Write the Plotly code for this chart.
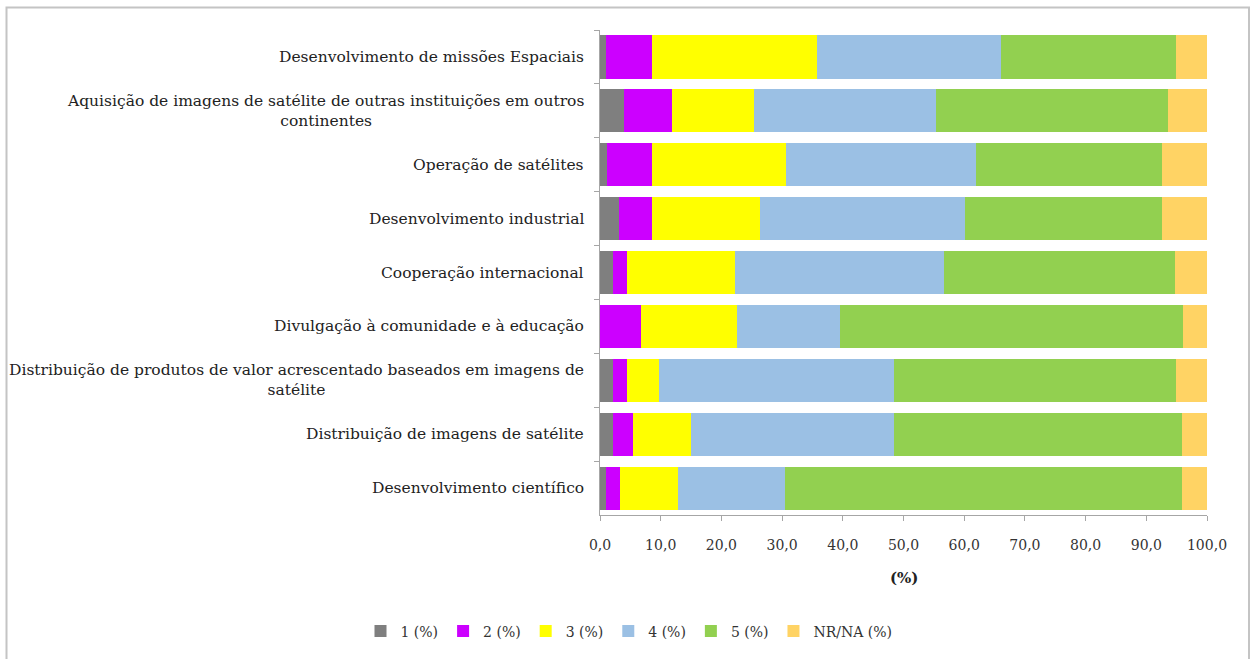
import plotly.graph_objects as go

# Categories, top to bottom
categories = [
    "Desenvolvimento de missões Espaciais",
    "Aquisição de imagens de satélite de outras instituições em outros<br>continentes",
    "Operação de satélites",
    "Desenvolvimento industrial",
    "Cooperação internacional",
    "Divulgação à comunidade e à educação",
    "Distribuição de produtos de valor acrescentado baseados em imagens de<br>satélite",
    "Distribuição de imagens de satélite",
    "Desenvolvimento científico",
]

# Share of answers per rating (%)
r1 = [1.0, 3.9, 1.1, 3.2, 2.2, 0.0, 2.2, 2.2, 1.0]
r2 = [7.5, 8.0, 7.4, 5.3, 2.3, 6.7, 2.3, 3.3, 2.3]
r3 = [27.3, 13.4, 22.1, 17.8, 17.8, 15.9, 5.3, 9.5, 9.5]
r4 = [30.3, 30.1, 31.4, 33.8, 34.4, 16.9, 38.7, 33.5, 17.7]
r5 = [28.8, 38.1, 30.6, 32.5, 38.1, 56.6, 46.4, 47.3, 65.3]
nrna = [5.1, 6.5, 7.4, 7.4, 5.2, 3.9, 5.1, 4.2, 4.2]

series_names = ["1 (%)", "2 (%)", "3 (%)", "4 (%)", "5 (%)", "NR/NA (%)"]
series_values = [r1, r2, r3, r4, r5, nrna]
series_colors = ["#7f7f7f", "#cc00ff", "#ffff00", "#9bc0e4", "#92d050", "#ffd364"]

x_ticks = [0, 10, 20, 30, 40, 50, 60, 70, 80, 90, 100]
x_tick_labels = ["0,0", "10,0", "20,0", "30,0", "40,0", "50,0",
                 "60,0", "70,0", "80,0", "90,0", "100,0"]

FONT = "DejaVu Serif"

fig = go.Figure()
for name, vals, col in zip(series_names, series_values, series_colors):
    fig.add_trace(go.Bar(
        y=categories, x=vals, name=name, orientation="h",
        marker=dict(color=col, line=dict(width=0)),
    ))

# Category labels drawn as centred multi-line text boxes
annotations = []
for cat in categories:
    annotations.append(dict(
        xref="paper", yref="y", x=0, y=cat, xshift=-14,
        text=cat, showarrow=False, xanchor="right", yanchor="middle",
        align="center", font=dict(family=FONT, size=15.5, color="#222222"),
    ))
annotations.append(dict(
    xref="paper", yref="paper", x=0.5, y=-0.13, text="<b>(%)</b>",
    showarrow=False, xanchor="center", yanchor="middle",
    font=dict(family=FONT, size=15, color="#222222"),
))

W, H = 1254, 659
L, R, T, B = 600, 47, 30, 142
pw, ph = W - L - R, H - T - B

def px_to_paper_x(px):
    return (px - L) / pw

def px_to_paper_y(py):
    return (H - B - py) / ph

fig.update_layout(
    width=W, height=H,
    margin=dict(l=L, r=R, t=T, b=B, pad=0),
    paper_bgcolor="white", plot_bgcolor="white",
    font=dict(family=FONT),
    barmode="stack", bargap=0.2,
    showlegend=True,
    legend=dict(
        orientation="h", x=px_to_paper_x(629), y=px_to_paper_y(634),
        xanchor="center", yanchor="middle", traceorder="normal",
        font=dict(family=FONT, size=14, color="#333333"),
        itemwidth=30, tracegroupgap=0,
    ),
    annotations=annotations,
    shapes=[dict(
        type="rect", xref="paper", yref="paper",
        x0=px_to_paper_x(6.5), x1=px_to_paper_x(1249),
        y0=px_to_paper_y(700), y1=px_to_paper_y(7.5),
        line=dict(color="#c4c4c4", width=2), fillcolor="rgba(0,0,0,0)",
        layer="below",
    )],
    xaxis=dict(
        range=[0, 100], tickvals=x_ticks, ticktext=x_tick_labels,
        showgrid=False, zeroline=False,
        showline=True, linecolor="#a6a6a6", linewidth=1,
        ticks="outside", ticklen=5, tickcolor="#a6a6a6",
        ticklabelstandoff=12,
        tickfont=dict(family=FONT, size=14, color="#333333"),
    ),
    yaxis=dict(
        autorange="reversed", type="category",
        showticklabels=False, showgrid=False, zeroline=False,
        showline=True, linecolor="#a6a6a6", linewidth=1,
        ticks="outside", ticklen=5, tickcolor="#a6a6a6",
        tickson="boundaries",
    ),
)

fig.write_html("out.html")
